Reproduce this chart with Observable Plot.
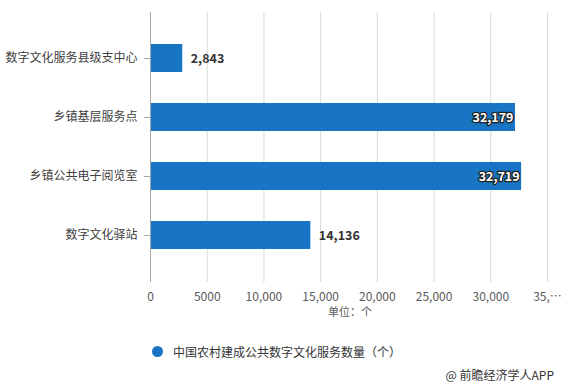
<!DOCTYPE html>
<html><head><meta charset="utf-8">
<script src="https://cdn.jsdelivr.net/npm/d3@7"></script>
<script src="https://cdn.jsdelivr.net/npm/@observablehq/plot@0.6"></script>
<style>
body{margin:0;background:#fff;font-family:"Noto Sans CJK SC","Noto Sans",sans-serif;}
#wrap{position:relative;width:562px;height:387px;overflow:hidden;}
#legend{position:absolute;left:152px;top:343px;font-size:12px;color:#333;display:flex;align-items:center;}
#legend span.dot{display:inline-block;width:11px;height:11px;border-radius:50%;background:#1775c4;margin-right:10px;}
#src{position:absolute;right:8px;top:366px;font-size:12px;color:#333;}
#unit{position:absolute;left:328px;top:303px;font-size:11px;color:#595959;white-space:nowrap;}
</style></head>
<body><div id="wrap"><div id="chart"></div>
<div id="unit">单位：个</div>
<div id="legend"><span class="dot"></span>中国农村建成公共数字文化服务数量（个）</div>
<div id="src">@ 前瞻经济学人APP</div></div>
<script>
const categories = ["数字文化服务县级支中心","乡镇基层服务点","乡镇公共电子阅览室","数字文化驿站"];
const values = [2843, 32179, 32719, 14136];
const tickValues = [0,5000,10000,15000,20000,25000,30000,35000];
const tickLabels = ["0","5000","10,000","15,000","20,000","25,000","30,000","35,…"];
const inside = [false, true, true, false];
const data = categories.map((c,i)=>({c, v: values[i], inside: inside[i]}));
const fmt = d3.format(",");
const chart = Plot.plot({
  width: 562, height: 330,
  marginLeft: 150, marginRight: 15, marginTop: 12, marginBottom: 48,
  style: {fontFamily: '"Noto Sans CJK SC","Noto Sans",sans-serif', fontSize: "12px", color: "#595959"},
  x: {domain: [0, 35000], ticks: tickValues, tickFormat: d => tickLabels[tickValues.indexOf(d)]},
  y: {domain: categories, padding: 0.52},
  marks: [
    Plot.gridX(tickValues.slice(1), {stroke: "#d9d9d9", strokeOpacity: 1}),
    Plot.barX(data, {x: "v", y: "c", fill: "#1775c4"}),
    Plot.ruleX([0], {stroke: "#a6a6a6"}),
    Plot.axisX({ticks: tickValues, tickFormat: d => tickLabels[tickValues.indexOf(d)], tickSize: 0, tickPadding: 10, label: null, fontSize: 12, fill: "#595959"}),
    Plot.axisY({tickSize: 6, tickPadding: 7, label: null, fontSize: 12, fill: "#404040", stroke: "#a6a6a6"}),
    Plot.text(data.filter(d=>!d.inside), {x: "v", y: "c", text: d => fmt(d.v), textAnchor: "start", dx: 8, fontWeight: "bold", fontSize: 12.5, fill: "#333"}),
    Plot.text(data.filter(d=>d.inside), {x: "v", y: "c", text: d => fmt(d.v), textAnchor: "end", dx: -2, fontWeight: "bold", fontSize: 12.5, fill: "#fff", stroke: "#222", strokeWidth: 2.5})
  ]
});
document.getElementById("chart").appendChild(chart);
</script></body></html>
